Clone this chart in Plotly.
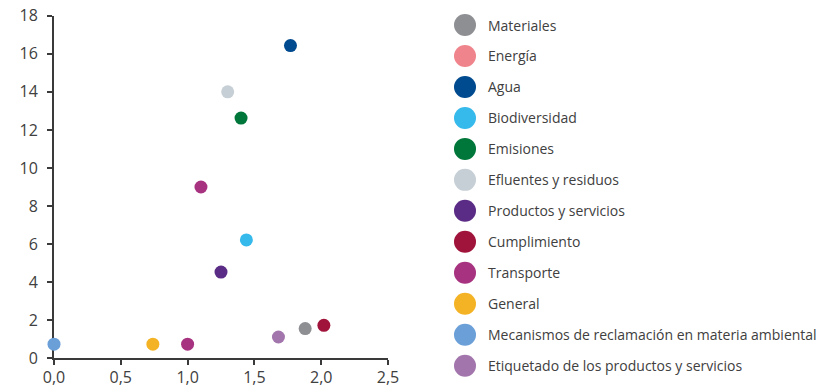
import plotly.graph_objects as go

# Categories and their colours (legend order)
categories = [
    "Materiales", "Energía", "Agua", "Biodiversidad", "Emisiones",
    "Efluentes y residuos", "Productos y servicios", "Cumplimiento",
    "Transporte", "General", "Mecanismos de reclamación en materia ambiental",
    "Etiquetado de los productos y servicios",
]
colors = [
    "#8E8F93", "#F0848C", "#004A8F", "#36B9EB", "#00773A",
    "#C5CFD5", "#5B2C86", "#A0133A", "#A7327F", "#F4B325",
    "#6A9FD8", "#A276AD",
]

# Scatter points: category, x value, y value
point_cat = [
    "Agua", "Efluentes y residuos", "Emisiones", "Transporte", "Biodiversidad",
    "Productos y servicios", "Cumplimiento", "Materiales",
    "Etiquetado de los productos y servicios", "Transporte", "General",
    "Mecanismos de reclamación en materia ambiental",
]
point_x = [1.77, 1.30, 1.40, 1.10, 1.44, 1.25, 2.02, 1.88, 1.68, 1.00, 0.74, 0.00]
point_y = [16.43, 14.0, 12.62, 9.0, 6.22, 4.53, 1.73, 1.56, 1.12, 0.74, 0.74, 0.74]

x_ticks = [0, 0.5, 1.0, 1.5, 2.0, 2.5]
y_ticks = list(range(0, 19, 2))

FONT = "Open Sans"
TEXT_COLOR = "#404040"
AXIS_COLOR = "#3a3a3a"
W, H = 828, 387

fig = go.Figure()

color_of = dict(zip(categories, colors))
for cat in categories:
    xs = [x for c, x in zip(point_cat, point_x) if c == cat]
    ys = [y for c, y in zip(point_cat, point_y) if c == cat]
    if not xs:
        continue
    fig.add_trace(go.Scatter(
        x=xs, y=ys, mode="markers", name=cat,
        marker=dict(size=13, color=color_of[cat], line=dict(width=0)),
        cliponaxis=False, showlegend=False, hoverinfo="skip",
    ))

# Legend column drawn as its own subplot
idx = list(range(len(categories)))
fig.add_trace(go.Scatter(
    x=[0] * len(categories), y=idx, mode="markers",
    marker=dict(size=22, color=colors, line=dict(width=0)),
    xaxis="x2", yaxis="y2", showlegend=False, hoverinfo="skip",
    cliponaxis=False,
))
row_px = 30.97
first_px = 25.0
leg_x = 465.0
for i, cat in enumerate(categories):
    fig.add_annotation(
        x=(leg_x + 21.0) / W, xref="paper", y=i, yref="y2",
        text=cat, showarrow=False, xanchor="left", yanchor="middle",
        font=dict(family=FONT, size=14, color=TEXT_COLOR),
    )

y_top = (first_px) / row_px
y_bottom = len(categories) - 1 + (H - first_px - row_px * (len(categories) - 1)) / row_px

fig.update_layout(
    width=W, height=H,
    margin=dict(l=0, r=0, t=0, b=0),
    paper_bgcolor="white", plot_bgcolor="white",
    separators=", ",
    showlegend=False,
    font=dict(family=FONT, color=TEXT_COLOR),
    xaxis=dict(
        domain=[54 / W, 388 / W], range=[0, 2.5],
        tickvals=x_ticks, tickformat=".1f",
        showgrid=False, zeroline=False,
        showline=True, linecolor=AXIS_COLOR, linewidth=2,
        ticks="outside", ticklen=5, tickwidth=2, tickcolor=AXIS_COLOR,
        tickfont=dict(family=FONT, size=16, color=TEXT_COLOR),
        ticklabelstandoff=-2,
        layer="below traces", automargin=False,
    ),
    yaxis=dict(
        domain=[(H - 358.3) / H, (H - 15.7) / H], range=[0, 18],
        tickvals=y_ticks,
        showgrid=False, zeroline=False,
        showline=True, linecolor=AXIS_COLOR, linewidth=2,
        ticks="outside", ticklen=5, tickwidth=2, tickcolor=AXIS_COLOR,
        tickfont=dict(family=FONT, size=16, color=TEXT_COLOR),
        ticklabelstandoff=6,
        layer="below traces", automargin=False,
    ),
    xaxis2=dict(
        domain=[leg_x / W, 1], range=[0, 1], visible=False, fixedrange=True,
    ),
    yaxis2=dict(
        domain=[0, 1], range=[y_bottom, -y_top], visible=False, fixedrange=True,
    ),
)

fig.write_html("out.html")
